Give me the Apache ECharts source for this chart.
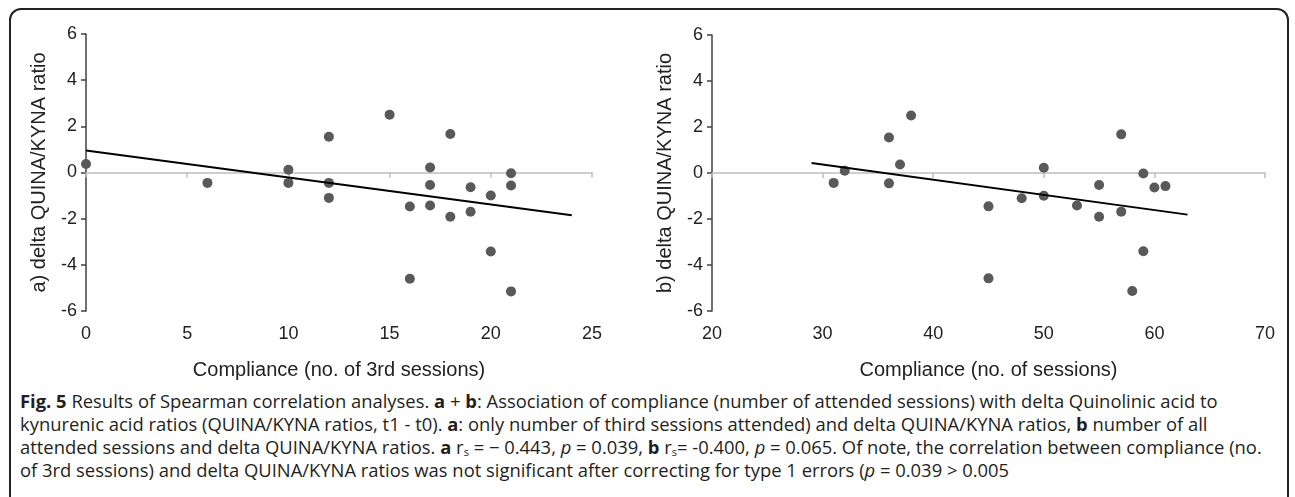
<!DOCTYPE html>
<html>
<head>
<meta charset="utf-8">
<script src="https://cdn.jsdelivr.net/npm/echarts@6/dist/echarts.min.js"></script>
<style>
    body { margin: 0; background: #fff; width: 1295px; height: 497px; overflow: hidden; position: relative; }
    .frame { position: absolute; left: 9px; top: 8px; width: 1276px; height: 520px; border: 2px solid #222; border-radius: 12px; }
    #chart { position: absolute; left: 0; top: 0; width: 1295px; height: 385px; }
    .caption { position: absolute; left: 20px; top: 389px; font-family: "Open Sans", sans-serif; font-size: 18.4px; line-height: 23px; color: #231f20; white-space: nowrap; }
    .caption sub { font-size: 11px; vertical-align: -2px; line-height: 0; }
</style>
</head>
<body>
<div class="frame"></div>
<div id="chart"></div>
<div class="caption">
<b>Fig. 5</b> Results of Spearman correlation analyses. <b>a</b> + <b>b</b>: Association of compliance (number of attended sessions) with delta Quinolinic acid to<br>
kynurenic acid ratios (QUINA/KYNA ratios, t1 - t0). <b>a</b>: only number of third sessions attended) and delta QUINA/KYNA ratios, <b>b</b> number of all<br>
attended sessions and delta QUINA/KYNA ratios. <b>a</b> r<sub>s</sub> = − 0.443, <i>p</i> = 0.039, <b>b</b> r<sub>s</sub>= -0.400, <i>p</i> = 0.065. Of note, the correlation between compliance (no.<br>
of 3rd sessions) and delta QUINA/KYNA ratios was not significant after correcting for type 1 errors (<i>p</i> = 0.039 &gt; 0.005
</div>
<script>
// a) third sessions attended vs delta QUINA/KYNA
var thirdSessions = [0, 6, 10, 10, 12, 12, 12, 15, 16, 16, 17, 17, 17, 18, 18, 19, 19, 20, 20, 21, 21, 21];
var deltaA = [0.37, -0.45, 0.12, -0.45, 1.55, -0.45, -1.1, 2.5, -1.47, -4.6, 0.22, -0.54, -1.43, 1.67, -1.92, -0.64, -1.7, -1.0, -3.42, -0.03, -0.56, -5.15];
var trendA_x = [0, 24];
var trendA_y = [0.95, -1.85];

// b) all sessions attended vs delta QUINA/KYNA
var allSessions = [31, 32, 36, 36, 37, 38, 45, 45, 48, 50, 50, 53, 55, 55, 57, 57, 58, 59, 59, 60, 61];
var deltaB = [-0.43, 0.1, 1.54, -0.45, 0.37, 2.5, -1.45, -4.58, -1.1, 0.23, -0.99, -1.41, -0.52, -1.9, 1.68, -1.68, -5.13, -0.02, -3.4, -0.63, -0.57];
var trendB_x = [29, 63];
var trendB_y = [0.43, -1.81];

var yTicks = [-6, -4, -2, 0, 2, 4, 6];

var FONT = '"Liberation Sans", Arial, sans-serif';
var dotColor = '#595959';

function pairs(xs, ys) {
    return xs.map(function (x, i) { return [x, ys[i]]; });
}

function yAxisFor(grid, name) {
    return {
        type: 'value', gridIndex: grid,
        min: yTicks[0], max: yTicks[yTicks.length - 1], interval: 2,
        name: name, nameLocation: 'middle', nameGap: 37,
        nameTextStyle: { fontFamily: FONT, fontSize: 20, color: '#222' },
        axisLine: { show: true, lineStyle: { color: '#404040', width: 1.5 } },
        axisTick: { show: true, length: 5, lineStyle: { color: '#404040', width: 1.5 } },
        axisLabel: { fontFamily: FONT, fontSize: 18, color: '#222', margin: 9 },
        splitLine: { show: false }
    };
}

// two x axes per grid: one on the zero line (gray with ticks), one at the bottom for labels
function xAxesFor(grid, min, max, step, name) {
    return [{
        type: 'value', gridIndex: grid, position: 'bottom', min: min, max: max, interval: step,
        axisLine: { onZero: true, lineStyle: { color: '#bfbfbf', width: 1.5 } },
        axisTick: { show: true, length: 5, lineStyle: { color: '#bfbfbf', width: 1.5 } },
        axisLabel: { show: false },
        splitLine: { show: false }
    }, {
        type: 'value', gridIndex: grid, position: 'bottom', min: min, max: max, interval: step,
        name: name, nameLocation: 'middle', nameGap: 49,
        nameTextStyle: { fontFamily: FONT, fontSize: 20, color: '#222' },
        axisLine: { show: false, onZero: false },
        axisTick: { show: false },
        axisLabel: { fontFamily: FONT, fontSize: 18, color: '#222', margin: 14 },
        splitLine: { show: false }
    }];
}

var myChart = echarts.init(document.getElementById('chart'));
var option = {
    animation: false,
    grid: [
        { left: 86, top: 34, width: 506, height: 277 },
        { left: 712, top: 35, width: 553, height: 278 }
    ],
    xAxis: xAxesFor(0, 0, 25, 5, 'Compliance (no. of 3rd sessions)')
        .concat(xAxesFor(1, 20, 70, 10, 'Compliance (no. of sessions)')),
    yAxis: [
        yAxisFor(0, 'a) delta QUINA/KYNA ratio'),
        yAxisFor(1, 'b) delta QUINA/KYNA ratio')
    ],
    series: [{
        type: 'line', xAxisIndex: 0, yAxisIndex: 0,
        data: pairs(trendA_x, trendA_y),
        showSymbol: false, lineStyle: { color: '#000', width: 2 }
    }, {
        type: 'scatter', xAxisIndex: 0, yAxisIndex: 0,
        data: pairs(thirdSessions, deltaA),
        symbolSize: 10, itemStyle: { color: dotColor, opacity: 1 }
    }, {
        type: 'line', xAxisIndex: 2, yAxisIndex: 1,
        data: pairs(trendB_x, trendB_y),
        showSymbol: false, lineStyle: { color: '#000', width: 2 }
    }, {
        type: 'scatter', xAxisIndex: 2, yAxisIndex: 1,
        data: pairs(allSessions, deltaB),
        symbolSize: 10, itemStyle: { color: dotColor, opacity: 1 }
    }]
};
myChart.setOption(option);
</script>
</body>
</html>
